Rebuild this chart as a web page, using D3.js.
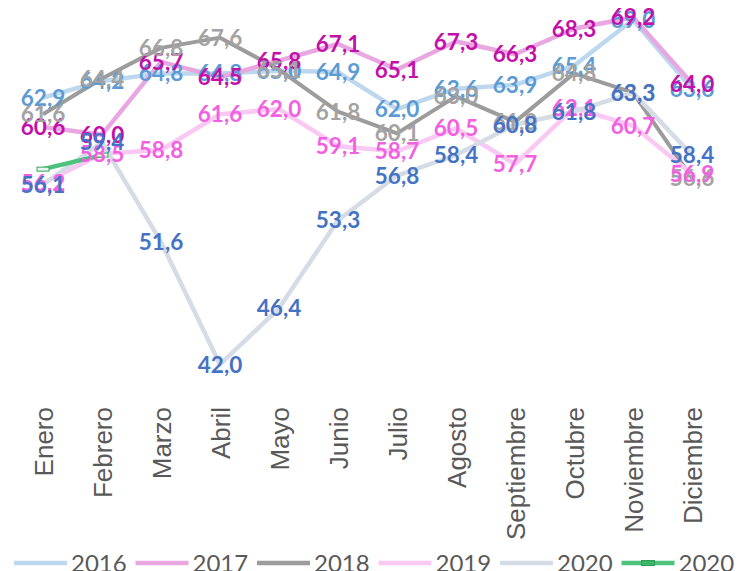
<!DOCTYPE html>
<html>
<head>
<meta charset="utf-8">
<script src="https://cdn.jsdelivr.net/npm/d3@7"></script>
<style>
  body { margin: 0; background: white; }
</style>
</head>
<body>
<script>
const months = ['Enero', 'Febrero', 'Marzo', 'Abril', 'Mayo', 'Junio', 'Julio', 'Agosto', 'Septiembre', 'Octubre', 'Noviembre', 'Diciembre']
const names = ['2016', '2017', '2018', '2019', '2020', '2020']
const v2016 = [62.9, 64.2, 64.8, 64.8, 65.0, 64.9, 62.0, 63.6, 63.9, 65.4, 69.0, 63.6]
const v2017 = [60.6, 60.0, 65.7, 64.5, 65.8, 67.1, 65.1, 67.3, 66.3, 68.3, 69.2, 64.0]
const v2018 = [61.6, 64.4, 66.8, 67.6, 65.1, 61.8, 60.1, 63.0, 61.0, 64.8, 63.3, 56.6]
const v2019 = [56.2, 58.5, 58.8, 61.6, 62.0, 59.1, 58.7, 60.5, 57.7, 62.1, 60.7, 56.9]
const v2020 = [56.1, 59.4, 51.6, 42.0, 46.4, 53.3, 56.8, 58.4, 60.8, 61.8, 63.3, 58.4]
const v2020b = [57.3, 58.4]

function main(){
    const width = 741, height = 571

    let svg = d3.select('body')
        .append('svg')
        .attr('width', width)
        .attr('height', height)

    const lineColrs = ['#bdd7ee', '#e9a7e1', '#9c9c9c', '#f9c8f3', '#d6dce6', '#4cc27c']
    const labelColrs = ['#5b9bd5', '#c210a8', '#a3a3a3', '#f25fe0', '#4472c4']
    const series = [v2016, v2017, v2018, v2019, v2020, v2020b]

    let x = d3.scalePoint()
        .domain(months)
        .range([43, 692])
    let y = d3.scaleLinear()
        .domain([40, 70])
        .range([390, 7])

    // category axis, no line, rotated labels
    let xAxis = svg.append('g')
        .attr('transform', 'translate(0,407)')
        .call(d3.axisBottom(x).tickSize(0).tickPadding(0))
    xAxis.select('.domain').remove()
    xAxis.selectAll('text')
        .attr('transform', 'rotate(-90)')
        .attr('text-anchor', 'end')
        .attr('x', 0)
        .attr('y', 0)
        .attr('dy', '0.36em')
        .attr('font-family', '"Liberation Sans", Arial, sans-serif')
        .attr('font-size', '26px')
        .attr('fill', '#595959')

    let line = d3.line()
        .x((d, i) => x(months[i]))
        .y(d => y(d))

    series.forEach((s, k) => {
        svg.append('path')
            .datum(s)
            .attr('d', line)
            .attr('fill', 'none')
            .attr('stroke', lineColrs[k])
            .attr('stroke-width', k == 2 ? 4 : 4.5)
            .attr('stroke-linejoin', 'round')
    })

    // markers for the short green series
    svg.selectAll('.mk')
        .data(v2020b)
        .enter()
        .append('rect')
        .attr('class', 'mk')
        .attr('x', (d, i) => x(months[i]) - 6)
        .attr('y', d => y(d) - 2)
        .attr('width', 12)
        .attr('height', 4)
        .attr('fill', '#e9f8ee')
        .attr('stroke', '#2fa85a')
        .attr('stroke-width', 1)

    // data labels, drawn after all lines in series order
    series.slice(0, 5).forEach((s, k) => {
        svg.append('g')
            .selectAll('text')
            .data(s)
            .enter()
            .append('text')
            .attr('x', (d, i) => x(months[i]))
            .attr('y', d => y(d))
            .attr('dy', '0.36em')
            .attr('text-anchor', 'middle')
            .attr('font-family', 'Lato, sans-serif')
            .attr('font-weight', 'bold')
            .attr('font-size', '22.5px')
            .attr('fill', labelColrs[k])
            .text(d => d.toFixed(1).replace('.', ','))
    })

    // legend
    let leg = svg.append('g')
        .attr('transform', 'translate(14,563)')
    names.forEach((n, k) => {
        let g = leg.append('g')
            .attr('transform', `translate(${k * 121.5},0)`)
        g.append('line')
            .attr('x1', 0)
            .attr('x2', 53)
            .attr('stroke', lineColrs[k])
            .attr('stroke-width', 4.5)
        if (k == 5) {
            g.append('rect')
                .attr('x', 20)
                .attr('y', -2.5)
                .attr('width', 13)
                .attr('height', 5)
                .attr('fill', '#3fb56c')
                .attr('stroke', '#2a9f55')
        }
        g.append('text')
            .attr('x', 57)
            .attr('y', 0)
            .attr('dy', '0.36em')
            .attr('font-family', 'Lato, sans-serif')
            .attr('font-size', '24px')
            .attr('fill', '#595959')
            .text(n)
    })
}

main()
</script>
</body>
</html>
